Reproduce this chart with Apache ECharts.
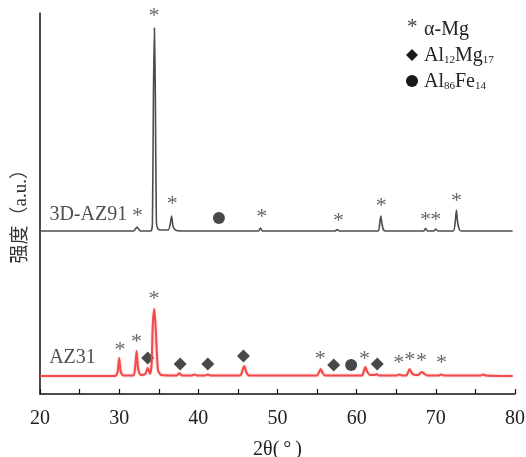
<!DOCTYPE html>
<html>
<head>
<meta charset="utf-8">
<script src="https://cdn.jsdelivr.net/npm/echarts@6/dist/echarts.min.js"></script>
<style>html,body{margin:0;padding:0;background:#fff}#c{width:526px;height:457px}</style>
</head>
<body>
<div id="c"></div>
<script>
// X axis
const xTicks = [20, 30, 40, 50, 60, 70, 80];
const xName = '2θ(\u2009°\u2009)';
const yName = '强度（a.u.）';

// 3D-AZ91 pattern (offset intensity, a.u.)
const az91Angle = [20, 31.8, 32.05, 32.25, 32.45, 32.7, 34.0, 34.2, 34.33, 34.45, 34.57, 34.7, 34.9, 35.3, 36.2, 36.45, 36.62, 36.8, 37.1, 38.0, 47.6, 47.85, 48.1, 57.3, 57.55, 57.8, 62.7, 62.9, 63.05, 63.2, 63.4, 63.7, 68.45, 68.7, 68.95, 69.75, 70.0, 70.25, 72.2, 72.45, 72.6, 72.75, 73.0, 73.3, 79.7];
const az91Intensity = [163, 163, 165, 167, 165, 163, 163, 170, 300, 366, 300, 172, 165, 164, 164, 170, 178, 168, 164, 163, 163, 166, 163, 163, 164.5, 163, 163, 170, 178, 170, 164, 163, 163, 165.5, 163, 163, 165, 163, 163, 172, 184, 172, 164, 163, 163];

// AZ31 pattern
const az31Angle = [20, 29.5, 29.8, 30.0, 30.2, 30.5, 31.8, 32.0, 32.2, 32.4, 32.7, 33.3, 33.6, 33.9, 34.1, 34.25, 34.45, 34.65, 34.9, 35.3, 37.3, 37.6, 37.9, 39.2, 39.5, 39.8, 40.9, 41.2, 41.5, 45.3, 45.55, 45.8, 46.05, 46.4, 55.0, 55.25, 55.45, 55.7, 56.0, 60.7, 60.9, 61.1, 61.35, 61.7, 62.3, 62.5, 62.8, 65.1, 65.4, 65.7, 66.3, 66.5, 66.7, 66.95, 67.4, 67.8, 68.05, 68.25, 68.5, 68.9, 70.4, 70.7, 71.0, 75.7, 76.0, 76.3, 79.7];
const az31Intensity = [18, 18, 22, 36, 22, 18.5, 18.5, 25, 43, 25, 19, 20, 26, 20, 30, 70, 85, 60, 24, 19, 18.5, 21, 18.5, 18.5, 19.5, 18.5, 18.5, 19.5, 18.5, 18.5, 23, 28, 22, 18.5, 18.5, 22, 25, 21, 18.5, 18.5, 23, 27, 22, 19, 19, 20, 18.5, 18.5, 19.5, 18.5, 18.5, 22, 25, 21, 19, 19, 21, 22, 20.5, 18.5, 18.5, 19.5, 18.5, 18.5, 19.5, 18.5, 18];

// Phase markers [2θ, height]
const alphaMgAZ91 = [[32.3, 182], [34.4, 382], [36.7, 194], [48.0, 181], [57.7, 177], [63.1, 192], [68.7, 178], [70.0, 178], [72.6, 197]];
const al86Fe14AZ91 = [[42.6, 176]];
const alphaMgAZ31 = [[30.1, 48], [32.2, 56], [34.4, 99], [55.4, 39], [61.0, 39], [65.3, 35], [66.7, 38], [68.2, 37], [70.7, 35]];
const al12Mg17AZ31 = [[33.6, 36], [37.7, 30], [41.2, 30], [45.7, 38], [57.1, 29], [62.6, 30]];
const al86Fe14AZ31 = [[59.3, 29]];

// Sample labels
const sampleLabels = [['3D-AZ91', 26.1, 179], ['AZ31', 24.1, 36]];

const zip = (a, b) => a.map((v, i) => [v, b[i]]);
const serif = "'Liberation Serif','Times New Roman','Noto Sans CJK SC',serif";

const chart = echarts.init(document.getElementById('c'), null, {renderer: 'canvas'});

const starSeries = (data) => ({
  type: 'scatter', data, symbolSize: 0, clip: false, silent: true,
  label: {show: true, position: 'inside', formatter: '*', color: '#3e3e3e', fontSize: 22, fontFamily: serif, offset: [0, 4]}
});

chart.setOption({
  animation: false,
  backgroundColor: '#fff',
  grid: {left: 40, right: 11, top: 13, bottom: 63, outerBoundsMode: 'none', containLabel: false},
  xAxis: {
    type: 'value', min: xTicks[0], max: xTicks[xTicks.length - 1], interval: 10,
    name: xName, nameLocation: 'middle', nameGap: 46,
    nameTextStyle: {fontSize: 20, fontFamily: serif, color: '#222'},
    axisLine: {show: true, lineStyle: {color: '#111', width: 1.5}},
    axisTick: {show: true, inside: true, length: 5, lineStyle: {color: '#111', width: 1.2}},
    minorTick: {show: true, splitNumber: 2, length: 5, lineStyle: {color: '#111', width: 1.2}},
    axisLabel: {fontSize: 20, fontFamily: serif, color: '#222', margin: 15},
    splitLine: {show: false}
  },
  yAxis: {
    type: 'value', min: 0, max: 381,
    axisLine: {show: true, lineStyle: {color: '#111', width: 1.5}},
    axisTick: {show: false}, axisLabel: {show: false}, splitLine: {show: false}
  },
  graphic: [
    {type: 'text', left: 12, top: 160, rotation: Math.PI / 2, style: {text: yName, fontSize: 19, fontFamily: serif, fill: '#333'}},
    {type: 'text', left: 407, top: 17, style: {text: '*', fontSize: 21, fontFamily: serif, fill: '#3e3e3e'}},
    {type: 'text', left: 424, top: 20, style: {text: 'α-Mg', fontSize: 20, fontFamily: serif, fill: '#222'}},
    {type: 'polygon', shape: {points: [[412, 49], [418, 55], [412, 61], [406, 55]]}, style: {fill: '#1a1a1a'}},
    {type: 'text', left: 424, top: 46, style: {
      text: 'Al{s|12}Mg{s|17}', fontSize: 20, fontFamily: serif, fill: '#222',
      rich: {s: {fontSize: 11, fontFamily: serif, fill: '#222', padding: [9, 0, 0, 0]}}}},
    {type: 'circle', shape: {cx: 412, cy: 81, r: 6}, style: {fill: '#1a1a1a'}},
    {type: 'text', left: 424, top: 72, style: {
      text: 'Al{s|86}Fe{s|14}', fontSize: 20, fontFamily: serif, fill: '#222',
      rich: {s: {fontSize: 11, fontFamily: serif, fill: '#222', padding: [9, 0, 0, 0]}}}}
  ],
  series: [
    {type: 'line', data: zip(az91Angle, az91Intensity), showSymbol: false, smooth: 0.2,
     lineStyle: {color: '#4d4d4d', width: 1.6}},
    {type: 'line', data: zip(az31Angle, az31Intensity), showSymbol: false, smooth: 0.2,
     lineStyle: {color: '#f24a4a', width: 2, shadowColor: 'rgba(240,80,80,0.5)', shadowBlur: 2}},
    starSeries(alphaMgAZ91),
    starSeries(alphaMgAZ31),
    {type: 'scatter', data: al12Mg17AZ31, symbol: 'diamond', symbolSize: [13, 13], clip: false,
     itemStyle: {color: '#1a1a1a'}},
    {type: 'scatter', data: al86Fe14AZ91.concat(al86Fe14AZ31), symbol: 'circle', symbolSize: 12, clip: false,
     itemStyle: {color: '#1a1a1a'}},
    {type: 'scatter', data: sampleLabels.map(d => ({value: [d[1], d[2]], name: d[0]})), symbolSize: 0, clip: false,
     label: {show: true, position: 'inside', formatter: p => p.name, fontSize: 20, fontFamily: serif, color: '#222'}}
  ]
});
</script>
</body>
</html>
